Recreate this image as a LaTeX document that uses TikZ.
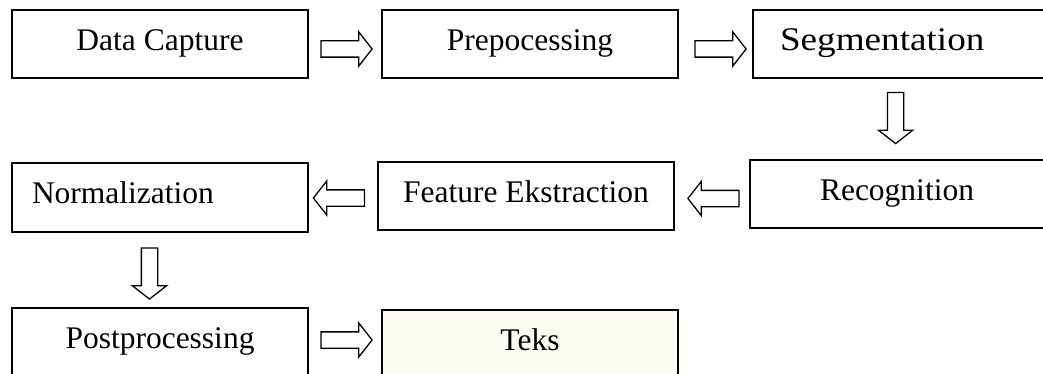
\documentclass[tikz,border=0pt]{standalone}
\usepackage{fontspec}
\usepackage{graphicx}
\setmainfont{Liberation Serif}
\usetikzlibrary{shapes.arrows,calc}
\definecolor{teksfill}{RGB}{252,252,244}
\tikzset{
  box/.style={draw=black, line width=1.8pt, minimum width=296pt, minimum height=68pt,
    inner sep=0pt, text height=21pt, text depth=8pt,
    font=\fontsize{31.5}{36}\selectfont},
  boxleft/.style={box, align=left, text width=#1},
  blockarrow/.style={draw=black, line width=1.3pt, fill=white, single arrow,
    minimum height=51pt, minimum width=33pt, inner sep=7.5pt,
    single arrow head extend=9pt, single arrow tip angle=104},
  toright/.style={blockarrow, shape border rotate=0},
  toleft/.style={blockarrow, shape border rotate=180},
  todown/.style={blockarrow, shape border rotate=270}
}
\begin{document}
\begin{tikzpicture}[x=1pt,y=-1pt]
\useasboundingbox (0,0) rectangle (1043,374);
\clip (0,0) rectangle (1043,374);
\fill[white] (0,0) rectangle (1043,374);
% boxes
\node[box] (dc) at (160,44) {Data Capture};
\node[box] (pre) at (530,44) {Prepocessing};
\node[boxleft=266pt, minimum width=320pt, inner xsep=27pt] (seg) at (913,44) {\scalebox{1.18}[1.05]{Segmentation}};
\node[boxleft=180pt, minimum width=320pt, inner xsep=70pt] (rec) at (910,194) {Recognition};
\node[box] (fe) at (526,196) {Feature Ekstraction};
\node[boxleft=256pt, inner xsep=20pt, minimum height=69pt] (norm) at (160,197.5) {Normalization};
\node[box] (post) at (160,342) {Postprocessing};
\node[box, fill=teksfill] (teks) at (530,344) {Teks};
% block arrows
\node[toright] (a1) at ($(dc.east)+(34.5,5)$) {};
\node[toright] (a2) at ($(pre.east)+(38.5,5)$) {};
\node[todown]  (a3) at ($(seg.south west)+(143.5,36)$) {};
\node[toleft]  (a4) at ($(rec.west)+(-32.5,4.5)$) {};
\node[toleft]  (a5) at ($(fe.west)+(-35,2)$) {};
\node[todown]  (a6) at ($(norm.south)+(-10.5,37.5)$) {};
\node[toright] (a7) at ($(post.east)+(34.5,-2)$) {};
\end{tikzpicture}
\end{document}
